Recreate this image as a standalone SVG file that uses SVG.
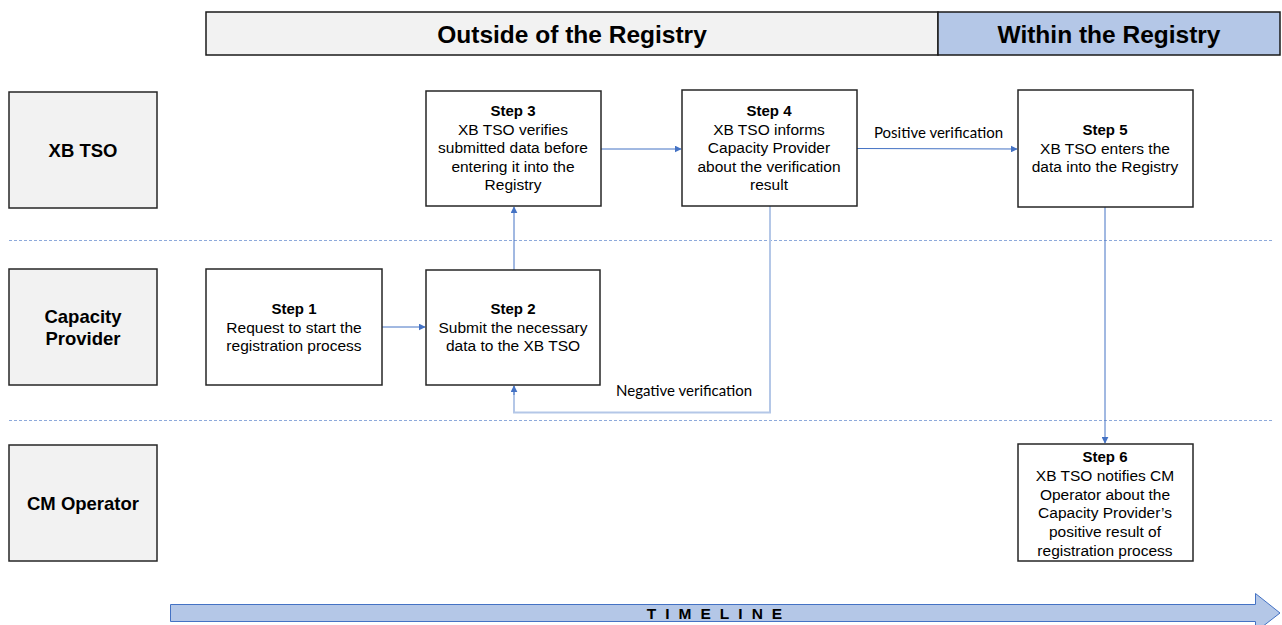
<svg xmlns="http://www.w3.org/2000/svg" width="1282" height="625" viewBox="0 0 1282 625">
  <defs>
    <marker id="arr" viewBox="0 0 10 10" refX="9" refY="5" markerWidth="7" markerHeight="7" markerUnits="userSpaceOnUse" orient="auto">
      <path d="M0,0 L10,5 L0,10 z" fill="#4472c4"/>
    </marker>
    <style>
      .hdr { stroke: #1a1a1a; stroke-width: 1.5; }
      .hdrtxt { font-family: "Liberation Sans", Arial, sans-serif; font-weight: bold; font-size: 24.5px; fill: #000; text-anchor: middle; }
      .lane { fill: #f2f2f2; stroke: #262626; stroke-width: 1.5; }
      .lanetxt { font-family: "Liberation Sans", Arial, sans-serif; font-weight: bold; font-size: 18.5px; fill: #000; text-anchor: middle; }
      .step { fill: #ffffff; stroke: #262626; stroke-width: 1.5; }
      .steptxt { font-family: "Liberation Sans", Arial, sans-serif; font-size: 15.5px; fill: #000; text-anchor: middle; }
      .steptxt .b { font-weight: bold; font-size: 15px; }
      .sep { stroke: #8eaadb; stroke-width: 1; stroke-dasharray: 3 2; fill: none; }
      .conn { stroke: #4472c4; stroke-width: 1; fill: none; }
      .connlight { stroke: #b4c7e7; stroke-width: 2; fill: none; }
      .lbl { font-family: Lato, "Open Sans", sans-serif; font-size: 15px; fill: #000; }
      .tl { fill: #b4c7e7; stroke: #4472c4; stroke-width: 1; }
      .tltxt { font-family: "Liberation Sans", Arial, sans-serif; font-weight: bold; font-size: 15.5px; fill: #000; letter-spacing: 9px; text-anchor: middle; }
    </style>
  </defs>

  <!-- header bands -->
  <g id="header-outside">
    <rect x="206" y="12" width="732" height="43" fill="#f2f2f2" class="hdr"/>
    <text x="572" y="43" class="hdrtxt">Outside  of the Registry</text>
  </g>
  <g id="header-within">
    <rect x="938" y="12" width="342" height="43" fill="#b4c7e7" class="hdr"/>
    <text x="1109" y="43" class="hdrtxt">Within the Registry</text>
  </g>

  <!-- swimlane separators -->
  <line x1="9" y1="240.5" x2="1272" y2="240.5" class="sep"/>
  <line x1="9" y1="420.5" x2="1272" y2="420.5" class="sep"/>

  <!-- lane labels -->
  <g id="lane-xbtso">
    <rect x="9" y="92" width="148" height="116" class="lane"/>
    <text x="83" y="157" class="lanetxt">XB TSO</text>
  </g>
  <g id="lane-capacity-provider">
    <rect x="9" y="269" width="148" height="116" class="lane"/>
    <text x="83" y="323" class="lanetxt">Capacity</text>
    <text x="83" y="345" class="lanetxt">Provider</text>
  </g>
  <g id="lane-cm-operator">
    <rect x="9" y="445" width="148" height="116" class="lane"/>
    <text x="83" y="510" class="lanetxt">CM Operator</text>
  </g>

  <!-- connectors -->
  <g id="connectors">
    <line x1="382" y1="327" x2="425" y2="327" class="conn" marker-end="url(#arr)"/>
    <line x1="514" y1="270" x2="514" y2="207" class="conn" marker-end="url(#arr)"/>
    <line x1="601" y1="149" x2="681" y2="149" class="conn" marker-end="url(#arr)"/>
    <line x1="857" y1="148.5" x2="1017" y2="149" class="conn" marker-end="url(#arr)"/>
    <path d="M770,206 V412.5 H514 V386" class="connlight"/>
    <line x1="514" y1="395" x2="514" y2="386" class="conn" marker-end="url(#arr)"/>
    <line x1="1105" y1="207" x2="1105" y2="443" class="conn" marker-end="url(#arr)"/>
    <text x="874" y="138" class="lbl">Positive verification</text>
    <text x="616" y="396" class="lbl">Negative verification</text>
  </g>

  <!-- steps -->
  <g id="step1">
    <rect x="206" y="269" width="176" height="116" class="step"/>
    <text class="steptxt"><tspan x="294" y="314" class="b">Step 1</tspan><tspan x="294" y="332.5">Request to start the</tspan><tspan x="294" y="351">registration process</tspan></text>
  </g>
  <g id="step2">
    <rect x="426" y="270" width="174" height="115" class="step"/>
    <text class="steptxt"><tspan x="513" y="314" class="b">Step 2</tspan><tspan x="513" y="332.5">Submit the necessary</tspan><tspan x="513" y="351">data to the XB TSO</tspan></text>
  </g>
  <g id="step3">
    <rect x="426" y="91" width="175" height="115" class="step"/>
    <text class="steptxt"><tspan x="513" y="116" class="b">Step 3</tspan><tspan x="513" y="134.5">XB TSO verifies</tspan><tspan x="513" y="153">submitted data before</tspan><tspan x="513" y="171.5">entering it into the</tspan><tspan x="513" y="190">Registry</tspan></text>
  </g>
  <g id="step4">
    <rect x="682" y="90" width="175" height="116" class="step"/>
    <text class="steptxt"><tspan x="769" y="116" class="b">Step 4</tspan><tspan x="769" y="134.5">XB TSO informs</tspan><tspan x="769" y="153">Capacity Provider</tspan><tspan x="769" y="171.5">about the verification</tspan><tspan x="769" y="190">result</tspan></text>
  </g>
  <g id="step5">
    <rect x="1018" y="90" width="175" height="117" class="step"/>
    <text class="steptxt"><tspan x="1105" y="135" class="b">Step 5</tspan><tspan x="1105" y="153.5">XB TSO enters the</tspan><tspan x="1105" y="172">data into the Registry</tspan></text>
  </g>
  <g id="step6">
    <rect x="1018" y="444" width="175" height="117" class="step"/>
    <text class="steptxt"><tspan x="1105" y="462" class="b">Step 6</tspan><tspan x="1105" y="480.8">XB TSO notifies CM</tspan><tspan x="1105" y="499.6">Operator about the</tspan><tspan x="1105" y="518.4">Capacity Provider’s</tspan><tspan x="1105" y="537.2">positive result of</tspan><tspan x="1105" y="556">registration process</tspan></text>
  </g>

  <!-- timeline -->
  <g id="timeline">
    <path d="M170.5,604.5 H1255.5 V593.5 L1280,613 L1255.5,632 V621.5 H170.5 Z" class="tl"/>
    <text x="719" y="619" class="tltxt">TIMELINE</text>
  </g>
</svg>
